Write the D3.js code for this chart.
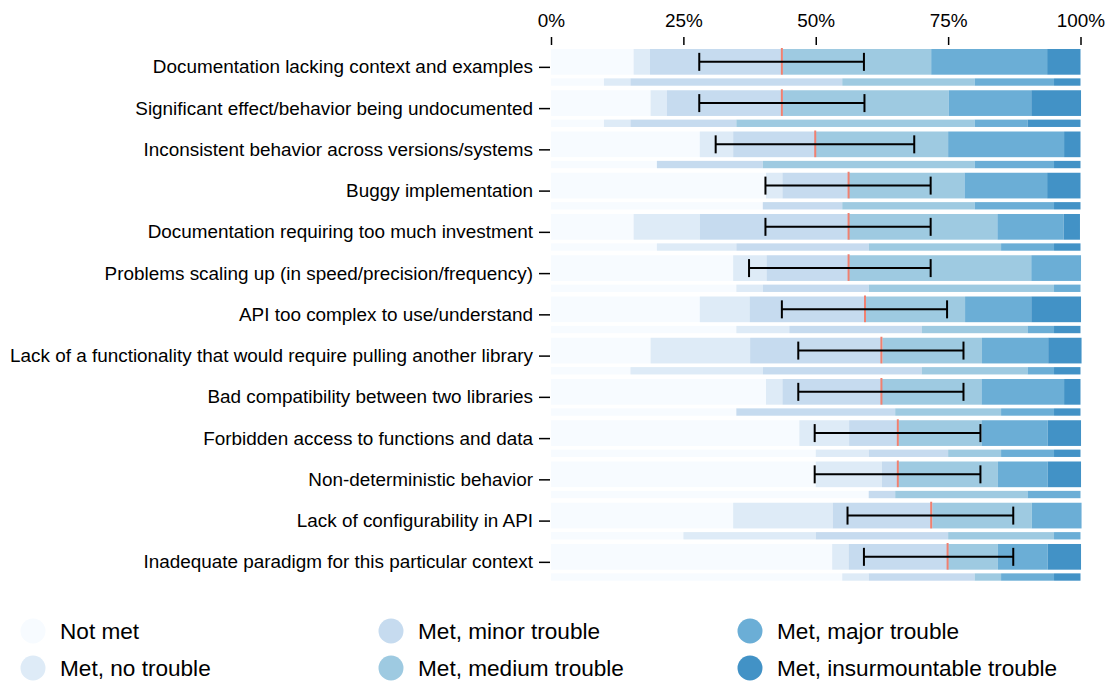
<!DOCTYPE html>
<html>
<head>
<meta charset="utf-8">
<script src="https://cdn.jsdelivr.net/npm/d3@7"></script>
<style>
  body { margin: 0; background: #fff; }
  svg { display: block; font-family: "Liberation Sans", Arial, sans-serif; }
  .axis text { fill: #000; }
  .axis line { stroke: #000; }
</style>
</head>
<body>
<svg id="chart" width="1111" height="682"></svg>
<script>

// rows, top to bottom
var problems = [
  "Documentation lacking context and examples",
  "Significant effect/behavior being undocumented",
  "Inconsistent behavior across versions/systems",
  "Buggy implementation",
  "Documentation requiring too much investment",
  "Problems scaling up (in speed/precision/frequency)",
  "API too complex to use/understand",
  "Lack of a functionality that would require pulling another library",
  "Bad compatibility between two libraries",
  "Forbidden access to functions and data",
  "Non-deterministic behavior",
  "Lack of configurability in API",
  "Inadequate paradigm for this particular context"
];

var levels = [
  "Not met",
  "Met, no trouble",
  "Met, minor trouble",
  "Met, medium trouble",
  "Met, major trouble",
  "Met, insurmountable trouble"
];

// share of answers per level (%), main bar
var mainShares = [
  [15.6,  3.1, 25.0, 28.1, 21.9, 6.3],
  [18.8,  3.1, 21.9, 31.3, 15.6, 9.4],
  [28.1,  6.3, 15.6, 25.0, 21.9, 3.1],
  [40.6,  3.1, 12.5, 21.9, 15.6, 6.3],
  [15.6, 12.5, 28.1, 28.1, 12.5, 3.1],
  [34.4,  6.3, 15.6, 34.4,  9.4, 0.0],
  [28.1,  9.4, 21.9, 18.8, 12.5, 9.4],
  [18.8, 18.8, 25.0, 18.8, 12.5, 6.3],
  [40.6,  3.1, 18.8, 18.8, 15.6, 3.1],
  [46.9,  9.4,  9.4, 15.6, 12.5, 6.3],
  [50.0, 12.5,  3.1, 18.8,  9.4, 6.3],
  [34.4, 18.8, 18.8, 18.8,  9.4, 0.0],
  [53.1,  3.1, 18.8,  9.4,  9.4, 6.3]
];

// share of answers per level (%), thin bar
var subShares = [
  [10,  5, 40, 25, 15,  5],
  [10,  5, 20, 45, 10, 10],
  [20,  0, 20, 40, 15,  5],
  [40,  0, 15, 25, 15,  5],
  [20, 15, 25, 25, 10,  5],
  [35,  5, 20, 35,  5,  0],
  [35, 10, 25, 20,  5,  5],
  [15, 25, 30, 20,  5,  5],
  [35,  0, 30, 20, 10,  5],
  [50, 10, 15, 10, 10,  5],
  [60,  0,  5, 25, 10,  0],
  [25, 25, 25, 20,  5,  0],
  [55,  5, 20,  5, 10,  5]
];

var medians = [43.6, 43.6, 49.9, 56.2, 56.2, 56.2, 59.3, 62.4, 62.4, 65.5, 65.5, 71.8, 74.9];
var errLow  = [28.0, 28.0, 31.1, 40.5, 40.5, 37.4, 43.6, 46.7, 46.7, 49.8, 49.8, 56.0, 59.1];
var errHigh = [59.1, 59.2, 68.6, 71.7, 71.7, 71.7, 74.8, 77.9, 77.9, 81.1, 81.1, 87.3, 87.3];

var tickValues = [0, 25, 50, 75, 100];

var colors = ["#f7fbff", "#deebf7", "#c6dbef", "#9ecae1", "#6baed6", "#4292c6"];

var svg = d3.select("#chart");

var x = d3.scaleLinear().domain([0, 100]).range([551, 1080.5]);

var y = d3.scaleBand()
    .domain(problems)
    .range([49, 580.7])
    .paddingInner(0.11)
    .paddingOuter(0);

var color = d3.scaleOrdinal().domain(levels).range(colors);

var bw = y.bandwidth();
var mainH = bw * 0.70;
var subY = bw * 0.80;
var subH = bw * 0.20;

// turn shares into stacked segments
function segments(shares) {
  var acc = 0;
  return shares.map(function(v, i) {
    var s = { level: levels[i], x0: acc, x1: acc + v };
    acc += v;
    return s;
  });
}

var rows = svg.append("g").attr("class", "rows")
  .selectAll("g")
  .data(problems)
  .enter()
  .append("g")
    .attr("transform", function(d) { return "translate(0," + y(d) + ")"; });

rows.selectAll("rect.main")
  .data(function(d, i) { return segments(mainShares[i]); })
  .enter()
  .append("rect")
    .attr("class", "main")
    .attr("x", function(d) { return x(d.x0); })
    .attr("width", function(d) { return x(d.x1) - x(d.x0); })
    .attr("y", 0)
    .attr("height", mainH)
    .attr("fill", function(d) { return color(d.level); });

rows.selectAll("rect.sub")
  .data(function(d, i) { return segments(subShares[i]); })
  .enter()
  .append("rect")
    .attr("class", "sub")
    .attr("x", function(d) { return x(d.x0); })
    .attr("width", function(d) { return x(d.x1) - x(d.x0); })
    .attr("y", subY)
    .attr("height", subH)
    .attr("fill", function(d) { return color(d.level); });

// median
rows.append("line")
    .attr("x1", function(d, i) { return x(medians[i]); })
    .attr("x2", function(d, i) { return x(medians[i]); })
    .attr("y1", -1)
    .attr("y2", mainH)
    .attr("stroke", "#f08070")
    .attr("stroke-width", 2);

// error bars
var cap = 9;
rows.append("line")
    .attr("x1", function(d, i) { return x(errLow[i]); })
    .attr("x2", function(d, i) { return x(errHigh[i]); })
    .attr("y1", mainH / 2)
    .attr("y2", mainH / 2)
    .attr("stroke", "#000")
    .attr("stroke-width", 2);

rows.selectAll("line.cap")
  .data(function(d, i) { return [errLow[i], errHigh[i]]; })
  .enter()
  .append("line")
    .attr("class", "cap")
    .attr("x1", function(d) { return x(d); })
    .attr("x2", function(d) { return x(d); })
    .attr("y1", mainH / 2 - cap)
    .attr("y2", mainH / 2 + cap)
    .attr("stroke", "#000")
    .attr("stroke-width", 2);

// axes
var xAxis = svg.append("g")
    .attr("class", "axis")
    .attr("transform", "translate(0,45)")
    .call(d3.axisTop(x)
      .tickValues(tickValues)
      .tickSize(8)
      .tickPadding(10)
      .tickFormat(function(d) { return d + "%"; }));
xAxis.select(".domain").remove();
xAxis.selectAll("text").attr("font-size", "18.9px").attr("font-family", null);
xAxis.selectAll("line").attr("stroke-width", 1.5);

var yAxis = svg.append("g")
    .attr("class", "axis")
    .attr("transform", "translate(550,0)")
    .call(d3.axisLeft(y).tickSize(11).tickPadding(6));
yAxis.select(".domain").remove();
yAxis.selectAll("text").attr("font-size", "18.9px").attr("font-family", null);
yAxis.selectAll("line").attr("stroke-width", 1.5);

// legend
var legendCols = [33, 391, 750];
var legendRows = [631, 668];

var legend = svg.append("g").attr("class", "legend")
  .selectAll("g")
  .data(levels)
  .enter()
  .append("g")
    .attr("transform", function(d, i) {
      return "translate(" + legendCols[Math.floor(i / 2)] + "," + legendRows[i % 2] + ")";
    });

legend.append("circle")
    .attr("r", 12.5)
    .attr("fill", function(d) { return color(d); });

legend.append("text")
    .attr("x", 27)
    .attr("dy", "0.35em")
    .attr("font-size", "22.6px")
    .text(function(d) { return d; });

</script>
</body>
</html>
